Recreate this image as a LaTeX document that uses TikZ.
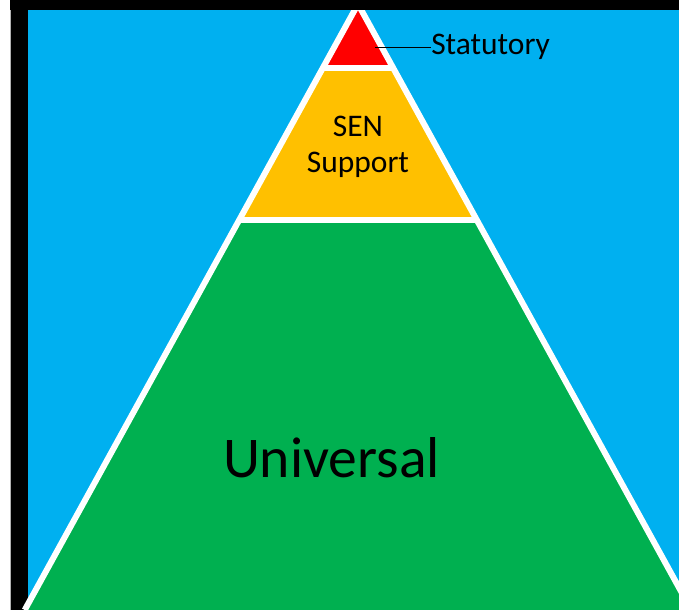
\documentclass[tikz,border=0pt]{standalone}
\usepackage{fontspec}
\setmainfont{Carlito}
\usetikzlibrary{positioning}
\definecolor{skyblue}{HTML}{00B0F0}
\definecolor{statred}{HTML}{FF0000}
\definecolor{senorange}{HTML}{FFC000}
\definecolor{unigreen}{HTML}{00B050}

\begin{document}
\begin{tikzpicture}[
        x=0.75pt, y=-0.75pt,
        every node/.style={align=center, inner sep=0pt},
        tierline/.style={white, line width=4.5pt, line join=round},
        tierlabel/.style={font=\fontsize{23.6}{27}\selectfont},
        biglabel/.style={font=\fontsize{43.2}{50}\selectfont}
    ]
    \clip (0,0) rectangle (679,610);

    % Frame
    \fill[black] (10,0) rectangle (679,610);
    \fill[skyblue] (28,10) rectangle (679,610);
    \draw[gray!60, line width=0.75pt] (10,0) -- (10,610);

    % Tiers
    \coordinate (apex) at (358,4);
    \coordinate (redL) at (322.5,68.5);
    \coordinate (redR) at (393.5,68.5);
    \coordinate (senL) at (239.2,220);
    \coordinate (senR) at (476.8,220);
    \coordinate (baseL) at (24.7,610);
    \coordinate (baseR) at (691.3,610);

    \fill[statred] (apex) -- (redL) -- (redR) -- cycle;
    \fill[senorange] (redL) -- (senL) -- (senR) -- (redR) -- cycle;
    \fill[unigreen] (senL) -- (baseL) -- (baseR) -- (senR) -- cycle;
    \draw[tierline] (baseL) -- (apex) -- (baseR);
    \draw[tierline] (redL) -- (redR);
    \draw[tierline] (senL) -- (senR);
    \fill[black] (10,0) rectangle (679,10);

    % Nodes
    \node[tierlabel] (sen) at (358,147) {SEN\\Support};
    \node[biglabel, anchor=base] (universal) at (331.5,477) {Universal};
    \node[tierlabel, anchor=base west] (statutory) at (431,55) {Statutory};
    \coordinate (statpt) at (375,0 |- statutory.west);

    % Edges
    \draw[line width=1pt] (statpt) -- (statutory.west);

\end{tikzpicture}
\end{document}
